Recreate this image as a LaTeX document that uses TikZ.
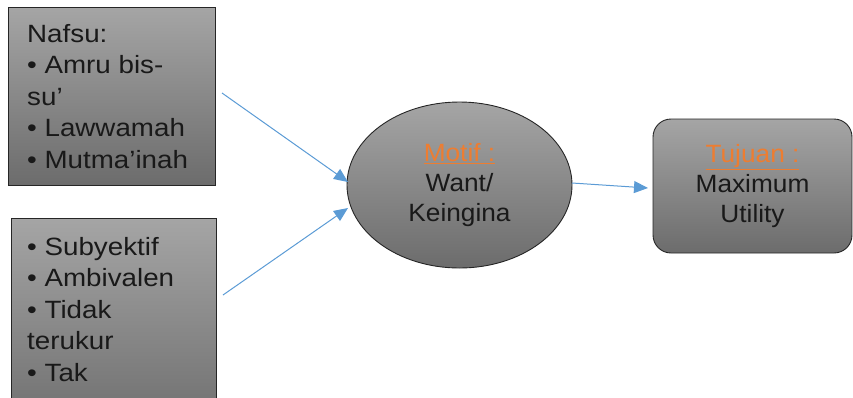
\documentclass[tikz,border=0pt]{standalone}
\usepackage{fontspec}
\setmainfont{Liberation Sans}
\newfontfamily\widefont[FakeStretch=1.11]{Liberation Sans}
\newfontfamily\midfont[FakeStretch=1.05]{Liberation Sans}
\usetikzlibrary{shapes.geometric,arrows.meta}
\definecolor{arrowblue}{RGB}{91,155,213}
\definecolor{motiforange}{RGB}{237,125,49}
\definecolor{graytop}{RGB}{165,165,165}
\definecolor{graybot}{RGB}{108,108,108}
\tikzset{
  gbox/.style={draw=black!85, line width=0.9pt, top color=graytop, bottom color=graybot, inner sep=0pt},
  txt/.style={font=\widefont\fontsize{25}{31.5}\selectfont, text=black!90, inner sep=0pt, align=left},
  ctxt/.style={font=\midfont\fontsize{25}{30}\selectfont, text=black!90, align=center},
  link/.style={draw=arrowblue, line width=1pt, -{Triangle[length=14pt,width=12pt]}},
}
\newcommand{\orangeul}[1]{\textcolor{motiforange}{\underline{#1}}}
\begin{document}
\begin{tikzpicture}[x=1pt,y=-1pt]
\useasboundingbox (0,0) rectangle (853,397);
\clip (0,0) rectangle (853,397);
% left boxes
\node[gbox, rectangle, minimum width=207pt, minimum height=178pt] (b1) at (111.5,96) {};
\node[txt, anchor=north west] (t1) at (27,23.8) {Nafsu:\\\textbullet{} Amru bis-\\su’\\\textbullet{} Lawwamah\\\textbullet{} Mutma’inah};
\node[gbox, rectangle, minimum width=205pt, minimum height=220pt] (b2) at (113.5,328) {};
\node[txt, anchor=north west] (t2) at (27,236.8) {\textbullet{} Subyektif\\\textbullet{} Ambivalen\\\textbullet{} Tidak\\terukur\\\textbullet{} Tak};
% ellipse
\node[gbox, ellipse, minimum width=225pt, minimum height=166pt, ctxt] (mot) at (459.5,185) {\orangeul{Motif :}\\Want/\\Keingina};
% rounded box
\node[gbox, rectangle, rounded corners=18pt, minimum width=199pt, minimum height=134pt, ctxt] (tuj) at (752.5,186) {\orangeul{Tujuan :}\\Maximum\\Utility};
% connectors
\coordinate (s1) at (222,93);
\coordinate (s2) at (223,295);
\coordinate (e1) at (348,182);
\coordinate (e2) at (348,208);
\coordinate (s3) at (572,183);
\coordinate (e3) at (648,188);
\draw[link] (s1) -- (e1);
\draw[link] (s2) -- (e2);
\draw[link] (s3) -- (e3);
\end{tikzpicture}
\end{document}
